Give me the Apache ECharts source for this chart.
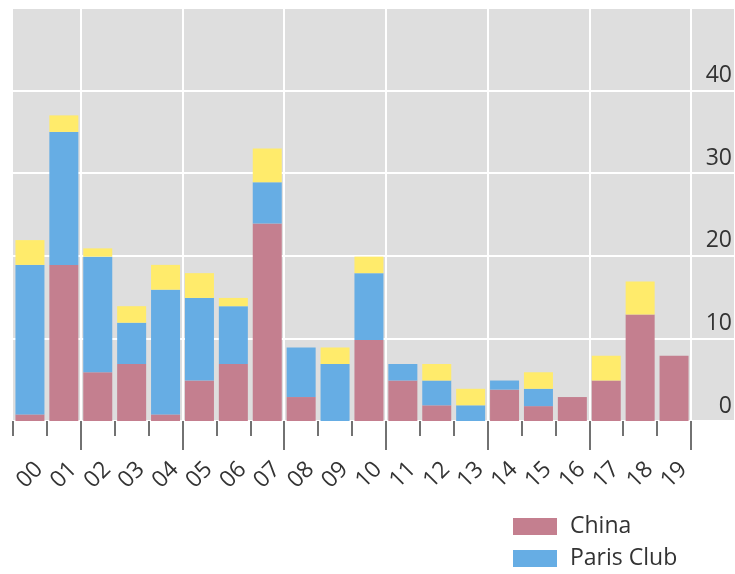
<!DOCTYPE html>
<html>
<head>
<meta charset="utf-8">
<script src="https://cdn.jsdelivr.net/npm/echarts@6/dist/echarts.min.js"></script>
<style>
html,body{margin:0;padding:0;background:#fff;}
#chart{width:735px;height:574px;}
</style>
</head>
<body>
<div id="chart"></div>
<script>
const years = ['00','01','02','03','04','05','06','07','08','09','10','11','12','13','14','15','16','17','18','19'];
const china = [0.8, 18.9, 5.9, 6.9, 0.8, 4.9, 6.9, 23.9, 2.9, 0, 9.8, 4.9, 1.9, 0, 3.8, 1.8, 2.9, 4.9, 12.9, 7.9];
const parisClub = [18.1, 16.1, 14.0, 5.0, 15.1, 10.0, 7.0, 5.0, 6.0, 6.9, 8.1, 2.0, 3.0, 1.9, 1.1, 2.1, 0, 0, 0, 0];
const other = [3.0, 2.0, 1.0, 2.0, 3.0, 3.0, 1.0, 4.1, 0, 2.0, 2.0, 0, 2.0, 2.0, 0, 2.0, 0, 3.0, 4.0, 0];
const yTicks = [0, 10, 20, 30, 40, 50];

const FONT = '"Open Sans", "Noto Sans", sans-serif';
const chart = echarts.init(document.getElementById('chart'), null, {renderer: 'canvas'});
chart.setOption({
  animation: false,
  textStyle: {fontFamily: FONT},
  grid: [
    {left: 13, right: 0, top: 8, bottom: 153, show: true, backgroundColor: '#dedede', borderWidth: 0},
    {left: 13, right: 44, top: 8, bottom: 153}
  ],
  xAxis: [
    {gridIndex: 0, type: 'value', min: 0, max: 1, show: false},
    {gridIndex: 1, type: 'category', data: years, position: 'bottom',
      axisLine: {show: false},
      axisTick: {show: true, interval: 0, length: 15, lineStyle: {color: '#444', width: 1.5}},
      axisLabel: {interval: 0, rotate: 45, align: 'center', verticalAlign: 'middle', margin: 54,
        fontSize: 23, color: '#333', fontFamily: FONT},
      splitLine: {show: false}
    },
    {gridIndex: 1, type: 'category', data: years, position: 'bottom',
      axisLine: {show: false},
      axisTick: {show: true, interval: function (i) { return i % 3 === 2; }, length: 29, lineStyle: {color: '#444', width: 1.5}},
      axisLabel: {show: false},
      splitLine: {show: true, interval: function (i) { return i % 3 === 2; }, lineStyle: {color: '#ffffff', width: 2}}
    }
  ],
  yAxis: [
    {gridIndex: 0, type: 'value', min: yTicks[0], max: yTicks[yTicks.length - 1], interval: 10, position: 'right',
      axisLine: {show: false}, axisTick: {show: false},
      axisLabel: {inside: true, margin: 2, showMaxLabel: false, verticalAlign: 'bottom', lineHeight: 30,
        fontSize: 23, color: '#333', fontFamily: FONT},
      splitLine: {show: true, lineStyle: {color: '#ffffff', width: 2}}
    },
    {gridIndex: 1, type: 'value', min: yTicks[0], max: yTicks[yTicks.length - 1], show: false, splitLine: {show: false}}
  ],
  legend: {
    orient: 'vertical', left: 513, top: 515, padding: 0,
    itemWidth: 44, itemHeight: 17, itemGap: 9, icon: 'rect',
    data: ['China', 'Paris Club'],
    textStyle: {fontSize: 23, color: '#333', fontFamily: FONT, padding: [0, 0, 0, 8]}
  },
  series: [
    {name: 'China', type: 'bar', stack: 'total', xAxisIndex: 1, yAxisIndex: 1, barWidth: 29,
      itemStyle: {color: '#c47f8f'}, data: china},
    {name: 'Paris Club', type: 'bar', stack: 'total', xAxisIndex: 1, yAxisIndex: 1, barWidth: 29,
      itemStyle: {color: '#66ade4'}, data: parisClub},
    {name: 'Other', type: 'bar', stack: 'total', xAxisIndex: 1, yAxisIndex: 1, barWidth: 29,
      itemStyle: {color: '#ffeb6b'}, data: other}
  ]
});
</script>
</body>
</html>
